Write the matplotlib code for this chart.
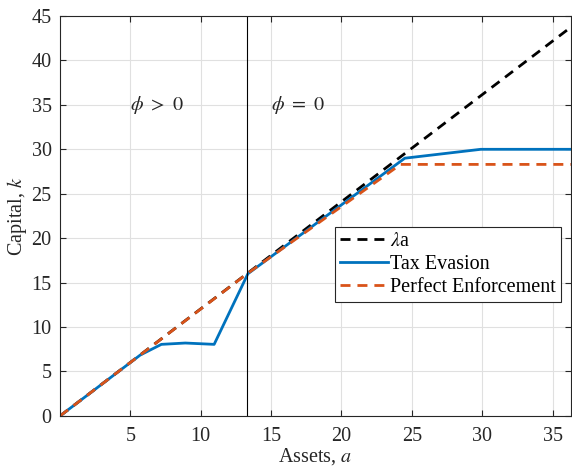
import matplotlib
matplotlib.use("agg")
from matplotlib import pyplot as plt
import numpy as np

# values
lam = 1.205
a_max = 36.3
a_cut = 13.25
lam_x = [0, a_max]
evasion_x = [0, 5.7, 7.2, 8.9, 10.95, 13.35, 24.5, 29.9, a_max]
evasion_y = [0, 6.85, 8.05, 8.2, 8.05, 16.0, 29.0, 30.0, 30.0]
enforce_x = [0, 13.3, 24.2, a_max]
enforce_y = [0, 16.0, 28.3, 28.3]
region_labels = [r"$\phi$ $>$ $0$", r"$\phi$ $=$ $0$"]
region_x = [5.0, 15.0]
region_y = 35.0

plt.rcParams['font.family'] = ['Liberation Serif', 'DejaVu Serif']
plt.rcParams['mathtext.fontset'] = 'stix'
fontsize = 14.5
blue = '#0072BD'
orange = '#D95319'

fig = plt.figure(figsize=(5.72, 4.71), dpi=100)
ax = fig.add_axes([0.105, 0.117, 0.893, 0.849])

ax.plot(lam_x, [lam*x for x in lam_x], color='black', lw=2, dashes=(3.6, 2.5), label=r"$\lambda$a")
ax.plot(evasion_x, evasion_y, color=blue, lw=2, label="Tax Evasion")
ax.plot(enforce_x, enforce_y, color=orange, lw=2, dashes=(3.6, 2.5), label="Perfect Enforcement")
ax.axvline(a_cut, color='black', lw=0.8)

for lab, x in zip(region_labels, region_x):
    ax.text(x, region_y, lab, fontsize=fontsize, ha='left', va='center', color='0.15')

ax.set_xlim(0, a_max)
ax.set_ylim(0, 45)
ax.set_xticks(np.arange(5, 36, 5))
ax.set_yticks(np.arange(0, 46, 5))
ax.tick_params(direction='in', top=True, right=True, labelsize=fontsize, colors='0.15', length=4)
ax.tick_params(axis='x', pad=8)
ax.tick_params(axis='y', pad=6)
ax.grid(True, color='0.88', lw=0.8)
ax.set_axisbelow(True)
for s in ax.spines.values():
    s.set_color('0.15')
    s.set_linewidth(0.8)
ax.set_xlabel("Assets, $a$", fontsize=fontsize, color='0.15', labelpad=0)
ax.set_ylabel("Capital, $k$", fontsize=fontsize, color='0.15', labelpad=2)

leg = ax.legend(loc='upper left', bbox_to_anchor=(0.538, 0.473), fontsize=fontsize,
                fancybox=False, edgecolor='0.15', framealpha=1, borderpad=0.25,
                handlelength=2.4, handletextpad=0.1, labelspacing=0.2, borderaxespad=0)
leg.get_frame().set_linewidth(0.8)

plt.savefig("out.png", dpi=100)
